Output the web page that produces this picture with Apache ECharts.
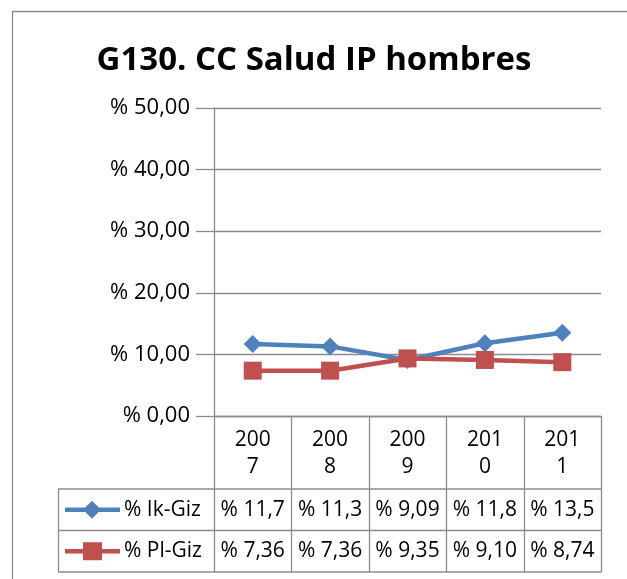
<!DOCTYPE html>
<html>
<head>
<meta charset="utf-8">
<script src="https://cdn.jsdelivr.net/npm/echarts@6/dist/echarts.min.js"></script>
<style>
  html, body { margin: 0; padding: 0; background: #fff; }
  #chart { width: 627px; height: 579px; }
</style>
</head>
<body>
<div id="chart"></div>
<script>
// Years on the category axis
var years = ['2007', '2008', '2009', '2010', '2011'];
// Series names and values (percent)
var ikName = '% Ik-Giz';
var ikValues = [11.7, 11.3, 9.09, 11.8, 13.5];
var plName = '% Pl-Giz';
var plValues = [7.36, 7.36, 9.35, 9.10, 8.74];
// Value axis range
var yMin = 0, yMax = 50, yStep = 10;

var BLUE = '#4F81BD';
var RED = '#C0504D';
var GRID = '#8c8c8c';
var FONT = '"Open Sans", Lato, sans-serif';
var FS = 21;

function pct(v) { return '% ' + v.toFixed(2).slice(0, 4).replace('.', ','); }

var chart = echarts.init(document.getElementById('chart'), null, { renderer: 'canvas' });

var option = {
  animation: false,
  backgroundColor: '#fff',
  title: {
    text: 'G130. CC Salud IP hombres',
    left: 309, top: 39, textAlign: 'center',
    textStyle: { fontFamily: FONT, fontWeight: 'bold', fontSize: 33, color: '#000' }
  },
  grid: { left: 214, right: 26, top: 108, bottom: 163, containLabel: false },
  xAxis: {
    type: 'category',
    data: years,
    boundaryGap: true,
    axisLine: { lineStyle: { color: GRID, width: 1.3 } },
    axisTick: { show: false },
    axisLabel: {
      margin: 11,
      fontFamily: FONT, fontSize: FS, color: '#000', lineHeight: 27,
      formatter: function (s) { return s.slice(0, 3) + '\n' + s.slice(3); }
    }
  },
  yAxis: {
    type: 'value',
    min: yMin, max: yMax, interval: yStep,
    axisLine: { show: true, lineStyle: { color: GRID, width: 1.3 } },
    axisTick: { show: true, length: 18, lineStyle: { color: GRID, width: 1.3 } },
    splitLine: { show: true, lineStyle: { color: GRID, width: 1.3 } },
    axisLabel: {
      margin: 24,
      fontFamily: FONT, fontSize: 22, color: '#000',
      formatter: function (v) { return '% ' + v.toFixed(2).replace('.', ','); }
    }
  },
  series: [
    {
      name: ikName, type: 'line', data: ikValues,
      symbol: 'diamond', symbolSize: 18,
      lineStyle: { color: BLUE, width: 4.5 },
      itemStyle: { color: BLUE }
    },
    {
      name: plName, type: 'line', data: plValues,
      symbol: 'rect', symbolSize: 18,
      lineStyle: { color: RED, width: 4.5 },
      itemStyle: { color: RED }
    }
  ]
};
chart.setOption(option);

// Data table under the plot: column borders follow the category axis
function buildTable() {
  var x0 = chart.convertToPixel({ xAxisIndex: 0 }, 0);
  var x1 = chart.convertToPixel({ xAxisIndex: 0 }, 1);
  var bw = x1 - x0;
  var left = x0 - bw / 2;
  var right = left + bw * years.length;
  var yAxisBottom = chart.convertToPixel({ yAxisIndex: 0 }, yMin);
  var headBottom = yAxisBottom + 73;
  var rowH = 41.5;
  var legendLeft = 58;
  var els = [];
  var line = function (xa, ya, xb, yb) {
    els.push({ type: 'line', silent: true,
      shape: { x1: xa, y1: ya, x2: xb, y2: yb },
      style: { stroke: GRID, lineWidth: 1.3 } });
  };
  // vertical borders in the header band
  for (var i = 0; i <= years.length; i++) {
    var xx = Math.round(left + bw * i) + 0.5;
    line(xx, yAxisBottom, xx, headBottom + rowH * 2);
  }
  // horizontal borders of the series rows
  line(legendLeft, headBottom, right, headBottom);
  line(legendLeft, headBottom + rowH, right, headBottom + rowH);
  line(legendLeft, headBottom + rowH * 2, right, headBottom + rowH * 2);
  line(legendLeft + 0.5, headBottom, legendLeft + 0.5, headBottom + rowH * 2);

  var rows = [
    { name: ikName, vals: ikValues, color: BLUE, sym: 'diamond' },
    { name: plName, vals: plValues, color: RED, sym: 'rect' }
  ];
  rows.forEach(function (r, k) {
    var cy = headBottom + rowH * k + rowH / 2;
    els.push({ type: 'line', silent: true,
      shape: { x1: legendLeft + 7, y1: cy, x2: legendLeft + 62, y2: cy },
      style: { stroke: r.color, lineWidth: 4.5 } });
    if (r.sym === 'diamond') {
      els.push({ type: 'polygon', silent: true,
        shape: { points: [[legendLeft + 34, cy - 9], [legendLeft + 43, cy], [legendLeft + 34, cy + 9], [legendLeft + 25, cy]] },
        style: { fill: r.color } });
    } else {
      els.push({ type: 'rect', silent: true,
        shape: { x: legendLeft + 25, y: cy - 9, width: 19, height: 18 },
        style: { fill: r.color } });
    }
    els.push({ type: 'text', silent: true,
      style: { x: legendLeft + 66, y: cy, text: r.name, fill: '#000',
        font: FS + 'px ' + FONT, textAlign: 'left', textVerticalAlign: 'middle' } });
    r.vals.forEach(function (v, j) {
      els.push({ type: 'text', silent: true,
        style: { x: left + bw * j + bw / 2, y: cy, text: pct(v), fill: '#000',
          font: FS + 'px ' + FONT, textAlign: 'center', textVerticalAlign: 'middle' } });
    });
  });
  // outer chart border
  els.push({ type: 'rect', silent: true,
    shape: { x: 12.5, y: 11.5, width: 800, height: 800 },
    style: { fill: 'none', stroke: GRID, lineWidth: 1.3 } });
  chart.setOption({ graphic: { elements: els } });
}
buildTable();
</script>
</body>
</html>
